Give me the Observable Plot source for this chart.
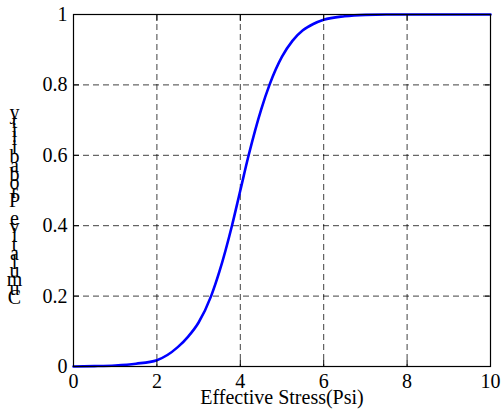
<!DOCTYPE html>
<html>
<head>
<meta charset="utf-8">
<script src="https://cdn.jsdelivr.net/npm/d3@7"></script>
<script src="https://cdn.jsdelivr.net/npm/@observablehq/plot@0.6"></script>
<style>
  html, body { margin: 0; padding: 0; background: white; }
</style>
</head>
<body>
<div id="chart"></div>
<script>
const stress = [0, 0.5, 1, 1.5, 2, 2.5, 2.75, 3, 3.3, 3.5, 3.8, 4, 4.2, 4.5, 4.7, 5, 5.25, 5.5, 5.75, 6, 6.5, 7, 7.5, 8, 9, 10];
const cumProb = [0, 0.001, 0.003, 0.008, 0.018, 0.055, 0.085, 0.125, 0.2, 0.27, 0.4, 0.5, 0.6, 0.73, 0.8, 0.88, 0.925, 0.955, 0.973, 0.985, 0.995, 0.999, 1, 1, 1, 1];
const xTicks = [0, 2, 4, 6, 8, 10];
const yTicks = [0, 0.2, 0.4, 0.6, 0.8, 1];
const xLabel = "Effective Stress(Psi)";
const yLabel = "Cumulative Probability";

const data = stress.map((x, i) => ({x, y: cumProb[i]}));
const stacked = Array.from(yLabel).reverse().join("\n");
const font = "'Liberation Serif', 'Times New Roman', serif";

const chart = Plot.plot({
  width: 502,
  height: 412,
  marginLeft: 73,
  marginRight: 12,
  marginTop: 14,
  marginBottom: 46,
  style: {fontFamily: font, fontSize: "20px", background: "white", color: "black"},
  x: {domain: [0, 10]},
  y: {domain: [0, 1]},
  marks: [
    Plot.gridX(xTicks, {stroke: "#000", strokeOpacity: 0.75, strokeDasharray: "6,4"}),
    Plot.gridY(yTicks, {stroke: "#000", strokeOpacity: 0.75, strokeDasharray: "6,4"}),
    Plot.line(data, {x: "x", y: "y", stroke: "#0000ff", strokeWidth: 2.6, curve: "monotone-x"}),
    Plot.frame({stroke: "black", strokeWidth: 1.2}),
    Plot.axisX(xTicks, {tickSize: -6, tickPadding: 13, tickFormat: d => String(d), label: null, fontSize: 20}),
    Plot.axisY(yTicks, {tickSize: -6, tickPadding: 12, tickFormat: d => String(d), label: null, fontSize: 20}),
    Plot.axisX(xTicks, {anchor: "top", tickSize: -6, tickFormat: () => "", label: null}),
    Plot.axisY(yTicks, {anchor: "right", tickSize: -6, tickFormat: () => "", label: null}),
    Plot.text([xLabel], {frameAnchor: "bottom", dy: 37, fontSize: 20, fontFamily: font, text: d => d}),
    Plot.text([stacked], {frameAnchor: "left", dx: -59, dy: 18, textAnchor: "middle", lineAnchor: "middle", lineHeight: 0.44, fontSize: 20, fontFamily: font, text: d => d})
  ]
});
document.getElementById("chart").appendChild(chart);
</script>
</body>
</html>
